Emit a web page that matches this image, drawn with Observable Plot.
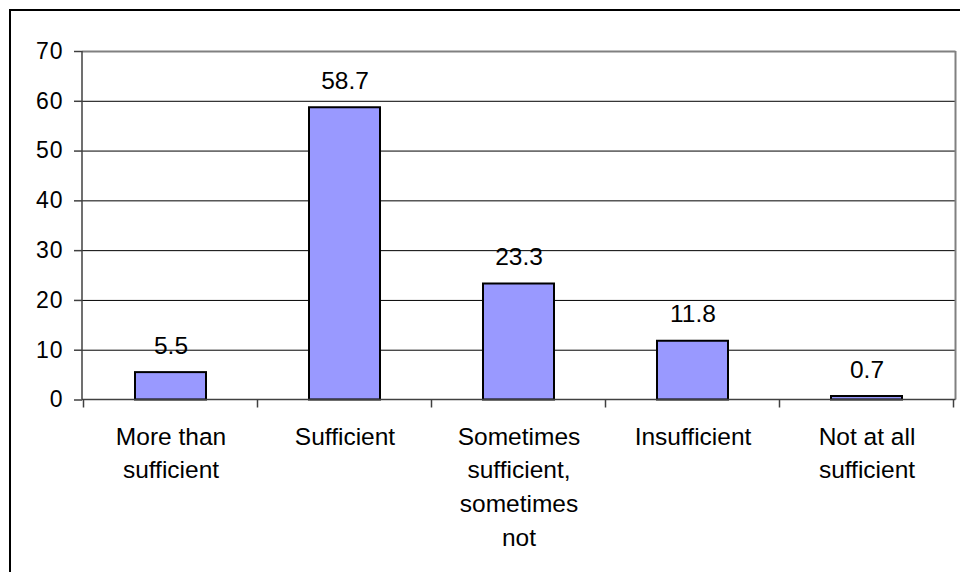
<!DOCTYPE html>
<html>
<head>
<meta charset="utf-8">
<script src="https://cdn.jsdelivr.net/npm/d3@7"></script>
<script src="https://cdn.jsdelivr.net/npm/@observablehq/plot@0.6"></script>
<style>
  html, body { margin: 0; padding: 0; background: #fff; overflow: hidden; width: 960px; height: 572px; }
  #wrap { position: relative; width: 960px; height: 572px; }
  #frame { position: absolute; left: 9px; top: 9px; width: 1000px; height: 1000px; border: 2px solid #000; box-sizing: border-box; pointer-events: none; }
  #chart { position: absolute; left: 0; top: 0; }
  #chart g[aria-label="y-axis tick label"] { font-size: 23px; letter-spacing: 1px; fill: #000; }
  #chart g[aria-label="y-axis tick"] { stroke: #404040; stroke-width: 1.5px; }
</style>
</head>
<body>
<div id="wrap"><div id="chart"></div><div id="frame"></div></div>
<script>
const categories = ["More than sufficient", "Sufficient", "Sometimes sufficient, sometimes not", "Insufficient", "Not at all sufficient"];
const categoryLabels = ["More than\nsufficient", "Sufficient", "Sometimes\nsufficient,\nsometimes\nnot", "Insufficient", "Not at all\nsufficient"];
const values = [5.5, 58.7, 23.3, 11.8, 0.7];
const valueLabels = ["5.5", "58.7", "23.3", "11.8", "0.7"];
const yTicks = [0, 10, 20, 30, 40, 50, 60, 70];

const rows = categories.map((c, i) => ({cat: c, label: categoryLabels[i], v: values[i], vl: valueLabels[i]}));

function axesAndBorder(index, scales, vals, dims) {
  const x = scales.x;
  const g = d3.create("svg:g");
  const left = dims.marginLeft, right = dims.width - dims.marginRight;
  const top = dims.marginTop, bottom = dims.height - dims.marginBottom;
  const bw = typeof x.bandwidth === "function" ? x.bandwidth() : (+x.bandwidth || 0);
  const step = x(categories[1]) - x(categories[0]);
  const gap = (step - bw) / 2;
  const bounds = categories.map(c => x(c) - gap);
  bounds.push(x(categories[categories.length - 1]) + bw + gap);
  g.append("line").attr("x1", right).attr("x2", right).attr("y1", top).attr("y2", bottom)
    .attr("stroke", "#808080").attr("stroke-width", 2);
  g.append("line").attr("x1", left).attr("x2", left).attr("y1", top).attr("y2", bottom)
    .attr("stroke", "#404040").attr("stroke-width", 1.5);
  g.append("line").attr("x1", left).attr("x2", right).attr("y1", bottom).attr("y2", bottom)
    .attr("stroke", "#404040").attr("stroke-width", 1.5);
  for (const b of bounds) {
    if (!isFinite(b)) continue;
    g.append("line").attr("x1", b).attr("x2", b).attr("y1", bottom).attr("y2", bottom + 8)
      .attr("stroke", "#404040").attr("stroke-width", 1.5);
  }
  return g.node();
}

const chart = Plot.plot({
  width: 960,
  height: 572,
  marginLeft: 82,
  marginRight: 4.5,
  marginTop: 51,
  marginBottom: 172.5,
  style: {fontFamily: "'Liberation Sans', Arial, sans-serif", background: "transparent", color: "#000"},
  x: {domain: categories, paddingInner: 0.594, paddingOuter: 0.297, axis: null},
  y: {domain: [0, 70], ticks: yTicks, tickSize: 8, tickPadding: 11, tickFormat: d => String(d), label: null},
  marks: [
    Plot.ruleY(yTicks.filter(d => d > 0 && d < 70), {stroke: "#000", strokeWidth: 1}),
    Plot.ruleY([70], {stroke: "#808080", strokeWidth: 2}),
    Plot.barY(rows, {x: "cat", y: "v", fill: "#9999FF", stroke: "#000", strokeWidth: 2}),
    axesAndBorder,
    Plot.text(rows, {x: "cat", y: "v", text: "vl", dy: -19, lineAnchor: "bottom", fontSize: 24.5, fill: "#000", letterSpacing: "0.8px"}),
    Plot.text(rows, {x: "cat", y: () => 0, text: "label", dy: 20.9, lineAnchor: "top", lineHeight: 1.375, fontSize: 24.5, fill: "#000", letterSpacing: "1.2px"})
  ]
});
document.getElementById("chart").appendChild(chart);
</script>
</body>
</html>
